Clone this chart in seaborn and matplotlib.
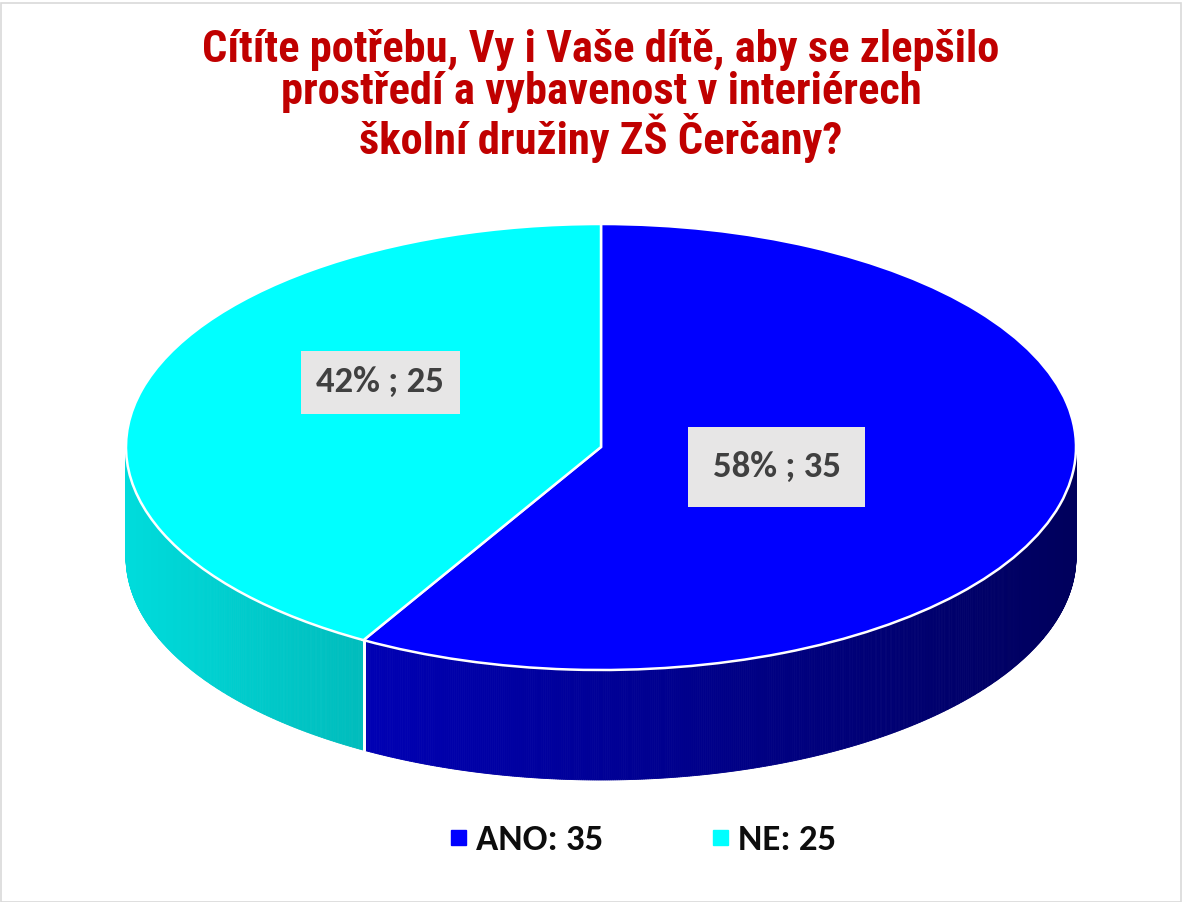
import numpy as np
import matplotlib.pyplot as plt
import seaborn as sns
from matplotlib.colors import to_rgb
from matplotlib.lines import Line2D
from matplotlib.patches import Rectangle

# data
categories = ["ANO", "NE"]
counts = [35, 25]
top_colors = ["#0000FF", "#00FFFF"]
# side wall shading (left end, right end) for each slice
side_colors = [("#0000B4", "#00005C"), ("#00DCDC", "#00BCBC")]

title = ("Cítíte potřebu, Vy i Vaše dítě, aby se zlepšilo\n"
         "prostředí a vybavenost v interiérech\n"
         "školní družiny ZŠ Čerčany?")

sns.set_style("white")
plt.rcParams['font.family'] = ['Carlito', 'Open Sans', 'DejaVu Sans']

W, H = 1183, 902
fig = plt.figure(figsize=(W / 100, H / 100), dpi=100)
ax = fig.add_axes([0, 0, 1, 1])

# pie geometry in pixels (centre measured from top)
cx, cy = 601, 447
rx, ry = 475, 223
depth = 110 / ry

# top face: an ordinary pie, squashed into an ellipse by the axis limits
wedges, _ = ax.pie(counts, colors=top_colors, startangle=90, counterclock=False,
                   radius=1, wedgeprops=dict(edgecolor='white', linewidth=1.8, zorder=3))

ax.set_aspect('auto')
ax.set_xlim(-cx / rx, (W - cx) / rx)
ax.set_ylim(-(H - cy) / ry, cy / ry)
ax.axis('off')

# side walls (only the front half, 180..360 degrees, is visible)
for w, (c0, c1) in zip(wedges, side_colors):
    t1, t2 = w.theta1, w.theta2
    span = (t2 - t1) % 360 or 360
    angs = np.linspace(180, 360, 721)
    inside = ((angs - t1) % 360) <= span + 1e-9
    if not inside.any():
        continue
    a = np.radians(angs[inside])
    xs, ys = np.cos(a), np.sin(a)
    c0, c1 = np.array(to_rgb(c0)), np.array(to_rgb(c1))
    xmin, xmax = xs.min(), xs.max()
    for i in range(len(a) - 1):
        t = ((xs[i] + xs[i + 1]) / 2 - xmin) / max(xmax - xmin, 1e-9)
        col = c0 + (c1 - c0) * t
        px = [xs[i], xs[i + 1], xs[i + 1], xs[i]]
        py = [ys[i], ys[i + 1], ys[i + 1] - depth, ys[i] - depth]
        ax.fill(px, py, color=col, lw=0.6, zorder=1)

# white seam where the slices meet on the wall
for w in wedges:
    for th in (w.theta1, w.theta2):
        a = np.radians(th) % (2 * np.pi)
        if np.pi < a < 2 * np.pi:
            ax.plot([np.cos(a), np.cos(a)], [np.sin(a), np.sin(a) - depth],
                    color='white', lw=2, zorder=2)

# data labels
total = sum(counts)
label_xy = [(0.37, -0.09), (-0.465, 0.29)]
label_pad = [0.66, 0.42]
for n, (lx, ly), pad in zip(counts, label_xy, label_pad):
    ax.text(lx, ly, f"{round(100 * n / total)}% ; {n}", ha='center', va='center',
            fontsize=26.5, fontweight='bold', color='#404040', zorder=5,
            bbox=dict(boxstyle=f'square,pad={pad}', fc='#E7E6E6', ec='none'))

# title
fig.text(601 / W, 1 - 96 / H, title, ha='center', va='center', fontsize=32,
         fontweight='bold', color='#C00000',
         family=['Roboto Condensed', 'Liberation Sans', 'DejaVu Sans'], linespacing=1.0)

# legend
handles = [Line2D([], [], marker='s', linestyle='none', markersize=10.8,
                  markerfacecolor=c, markeredgecolor=c) for c in top_colors]
labels = [f"{c}: {n}" for c, n in zip(categories, counts)]
fig.legend(handles, labels, loc='center', bbox_to_anchor=(642 / W, 1 - 840 / H), ncol=2,
           frameon=False, prop=dict(weight='bold', size=26.5), labelcolor='#0D0D0D',
           columnspacing=2.87, handletextpad=0.19, handlelength=0.6)

# chart border
fig.patches.append(Rectangle((0.5 / W, 0.5 / H), 1 - 3 / W, 1 - 3 / H, transform=fig.transFigure,
                             fill=False, ec='#D9D9D9', lw=1.2))

fig.savefig("out.png", dpi=100)
